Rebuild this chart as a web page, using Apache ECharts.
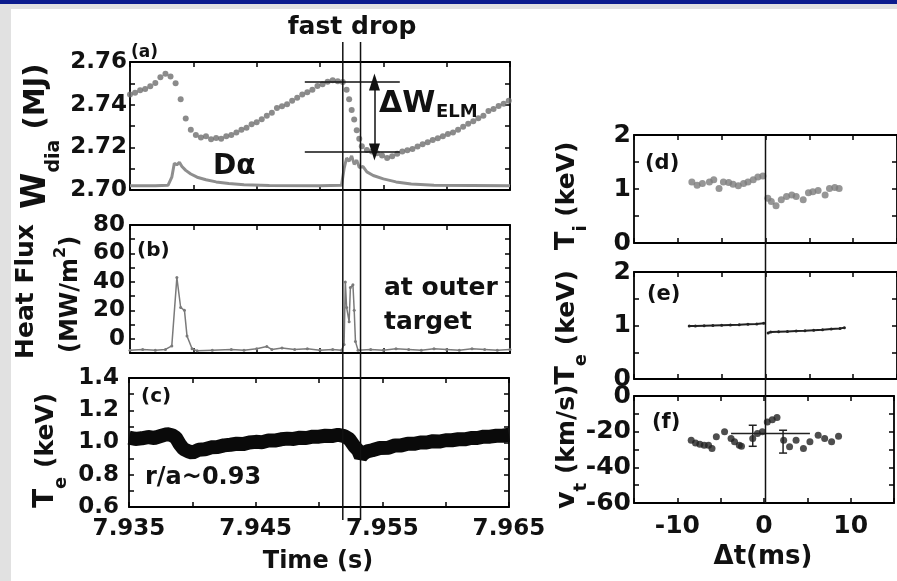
<!DOCTYPE html>
<html>
<head>
<meta charset="utf-8">
<script src="https://cdn.jsdelivr.net/npm/echarts@6/dist/echarts.min.js"></script>
<style>
  html, body { margin:0; padding:0; background:#fff; }
  #wrap { position:relative; width:897px; height:581px; overflow:hidden; background:#fff; }
  #topbar { position:absolute; left:0; top:0; width:897px; height:4px; background:#0c1c8e; }
  #topgray { position:absolute; left:0; top:4px; width:897px; height:5px; background:#e1e1e1; }
  #leftgray { position:absolute; left:0; top:4px; width:11px; height:577px; background:#e1e1e1; }
  #chart { position:absolute; left:0; top:0; width:897px; height:581px; }
</style>
</head>
<body>
<div id="wrap">
  <div id="topbar"></div><div id="topgray"></div><div id="leftgray"></div>
  <div id="chart"></div>
</div>
<script>
// (a) stored energy W_dia (MJ)
var wTime = [7.9350,7.9354,7.9358,7.9362,7.9366,7.9370,7.9374,7.9378,7.9382,7.9386,7.9390,7.9394,7.9398,7.9402,7.9406,7.9410,7.9414,7.9418,7.9422,7.9426,7.9430,7.9434,7.9438,7.9442,7.9446,7.9450,7.9454,7.9458,7.9462,7.9466,7.9470,7.9474,7.9478,7.9482,7.9486,7.9490,7.9494,7.9498,7.9502,7.9506,7.9510,7.9514,7.9518,7.9521,7.9523,7.9525,7.9527,7.9529,7.9531,7.9533,7.9537,7.9541,7.9545,7.9549,7.9553,7.9557,7.9561,7.9565,7.9569,7.9573,7.9577,7.9581,7.9585,7.9589,7.9593,7.9597,7.9601,7.9605,7.9609,7.9613,7.9617,7.9621,7.9625,7.9629,7.9633,7.9637,7.9641,7.9645,7.9649];
var wVal  = [2.7448,2.7456,2.7468,2.7474,2.7486,2.7502,2.7528,2.7545,2.7532,2.7500,2.7425,2.7335,2.7282,2.7258,2.7246,2.7252,2.7238,2.7244,2.7240,2.7252,2.7258,2.7270,2.7282,2.7292,2.7308,2.7318,2.7332,2.7348,2.7362,2.7384,2.7392,2.7402,2.7418,2.7432,2.7448,2.7458,2.7470,2.7488,2.7496,2.7508,2.7514,2.7510,2.7506,2.7470,2.7425,2.7375,2.7330,2.7280,2.7240,2.7205,2.7188,2.7180,2.7172,2.7162,2.7150,2.7158,2.7170,2.7180,2.7186,2.7192,2.7204,2.7214,2.7224,2.7234,2.7242,2.7252,2.7262,2.7270,2.7282,2.7296,2.7310,2.7322,2.7336,2.7348,2.7370,2.7380,2.7394,2.7404,2.7418];
// (a) D-alpha trace, drawn in the W_dia axis units
var daTime = [7.9350,7.9370,7.9380,7.9383,7.9385,7.9387,7.9389,7.9391,7.9394,7.9398,7.9403,7.9410,7.9418,7.9428,7.9440,7.9460,7.9500,7.9517,7.9519,7.9521,7.9523,7.9525,7.9527,7.9529,7.9531,7.9534,7.9537,7.9542,7.9550,7.9560,7.9572,7.9590,7.9650];
var daVal  = [2.7020,2.7020,2.7022,2.7060,2.7125,2.7118,2.7130,2.7110,2.7092,2.7075,2.7060,2.7048,2.7038,2.7030,2.7025,2.7021,2.7020,2.7022,2.7100,2.7150,2.7135,2.7160,2.7120,2.7140,2.7105,2.7110,2.7085,2.7068,2.7052,2.7038,2.7028,2.7022,2.7020];
// (b) heat flux at outer target (MW/m2)
var hfTime = [7.9350,7.9360,7.9370,7.9378,7.9383,7.9387,7.9390,7.9393,7.9395,7.9399,7.9403,7.9415,7.9430,7.9440,7.9450,7.9458,7.9462,7.9470,7.9480,7.9490,7.9500,7.9510,7.9517,7.9519,7.9520,7.9521,7.9523,7.9524,7.9526,7.9527,7.9528,7.9530,7.9540,7.9550,7.9560,7.9570,7.9580,7.9590,7.9600,7.9610,7.9620,7.9630,7.9640,7.9650];
var hfVal  = [-8,-7.5,-8,-7.5,-5,43,22,20,2,-7,-8.5,-8,-7.5,-8,-7,-5.5,-7.5,-6.5,-7.5,-7,-8,-7.5,-8,-4,40,22,12,36,38,20,-2,-8,-7.5,-8,-7,-7.5,-8,-7,-7.5,-8,-7,-7.5,-8,-7.5];
// (c) edge Te at r/a~0.93 (keV)
var teTime = [7.9350,7.9355,7.9360,7.9365,7.9370,7.9375,7.9380,7.9384,7.9387,7.9390,7.9393,7.9397,7.9400,7.9405,7.9410,7.9415,7.9420,7.9425,7.9430,7.9435,7.9440,7.9445,7.9450,7.9455,7.9460,7.9465,7.9470,7.9475,7.9480,7.9485,7.9490,7.9495,7.9500,7.9505,7.9510,7.9515,7.9520,7.9524,7.9528,7.9531,7.9533,7.9535,7.9538,7.9542,7.9548,7.9555,7.9560,7.9565,7.9570,7.9575,7.9580,7.9585,7.9590,7.9595,7.9600,7.9605,7.9610,7.9615,7.9620,7.9625,7.9630,7.9635,7.9640,7.9645,7.9650];
var teVal  = [1.030,1.022,1.026,1.034,1.028,1.040,1.052,1.045,1.030,0.990,0.960,0.945,0.936,0.955,0.958,0.970,0.972,0.982,0.986,0.992,0.990,1.000,1.004,1.002,1.012,1.012,1.020,1.024,1.022,1.030,1.028,1.036,1.036,1.042,1.040,1.048,1.040,1.020,0.975,0.950,0.912,0.930,0.945,0.952,0.966,0.968,0.982,0.982,0.992,0.992,1.000,1.000,1.008,1.006,1.014,1.014,1.020,1.020,1.028,1.028,1.036,1.036,1.042,1.042,1.048];
// (d) Ti vs time relative to ELM (ms, keV)
var tiTime = [-8.4,-7.8,-7.2,-6.4,-5.9,-5.3,-4.8,-4.2,-3.7,-3.1,-2.5,-2.0,-1.4,-0.87,-0.3,0.27,0.66,1.2,1.8,2.4,3.0,3.5,4.3,4.9,5.4,6.0,6.8,7.3,7.9,8.4];
var tiVal  = [1.13,1.07,1.10,1.13,1.17,1.01,1.13,1.12,1.09,1.06,1.10,1.13,1.17,1.22,1.24,0.83,0.77,0.69,0.80,0.86,0.89,0.86,0.80,0.93,0.95,0.97,0.89,1.01,1.03,1.01];
// (e) Te (keV), before and after the ELM
var teBeforeTime = [-8.7,-8.0,-7.0,-6.0,-5.0,-4.0,-3.0,-2.0,-1.0,-0.2];
var teBeforeVal  = [0.99,0.99,0.995,1.0,1.005,1.01,1.015,1.025,1.03,1.04];
var teAfterTime  = [0.3,0.6,1.5,2.5,3.5,4.5,5.5,6.5,7.5,8.5,9.0];
var teAfterVal   = [0.86,0.88,0.885,0.89,0.895,0.90,0.91,0.92,0.935,0.945,0.96];
// (f) toroidal rotation v_t (km/s)
var vtTime = [-8.4,-7.9,-7.4,-6.9,-6.4,-6.0,-5.5,-4.55,-3.8,-3.4,-2.85,-2.6,-1.3,-0.76,-0.19,0.38,0.95,1.5,2.27,2.95,3.7,4.55,5.3,6.25,7.0,7.8,8.6];
var vtVal  = [-24.8,-26.3,-27,-27.6,-27.6,-29.4,-22.9,-20.1,-23.8,-25.7,-27.6,-28.2,-23.8,-21,-20.1,-14.6,-13.3,-12.1,-24.8,-28.5,-24.8,-29.4,-25.7,-22,-23.8,-25.7,-22.5];
var vtErrTime = [-1.3, 2.2];
var vtErrLow  = [-28.2, -32];
var vtErrHigh = [-16.4, -19.2];
var vtMeanTime = [-3.8, 5.3];
var vtMeanVal  = [-21, -21];
// annotations
var fastDropTimes = [7.9518, 7.9532];
var dWTop = 2.7506, dWBottom = 2.7178;
var dWLineTimes = [7.9488, 7.9563];
var dWArrowTime = 7.9543;

var FONT = '"DejaVu Sans", sans-serif';
var INK = '#111';

function pairs(xs, ys) { return xs.map(function (x, i) { return [x, ys[i]]; }); }

var grids = [
  { left: 130, top: 62,  width: 380, height: 128 },
  { left: 130, top: 225, width: 380, height: 128 },
  { left: 129, top: 378, width: 380, height: 129 },
  { left: 634, top: 135, width: 265, height: 108 },
  { left: 634, top: 272, width: 265, height: 107 },
  { left: 634, top: 396, width: 265, height: 107 }
];

function axisBase(gi, pos, min, max, interval) {
  return {
    type: 'value', gridIndex: gi, position: pos, min: min, max: max, interval: interval,
    axisLine: { show: true, onZero: false, lineStyle: { color: '#000', width: 1.8 } },
    axisTick: { show: true, inside: true, length: 5, lineStyle: { color: '#000', width: 1.5 } },
    axisLabel: { show: false },
    splitLine: { show: false }
  };
}
function withLabels(ax, fmt, size, margin) {
  ax.axisLabel = { show: true, formatter: fmt, color: INK, fontFamily: FONT, fontWeight: 'bold',
    fontSize: size, margin: margin, showMinLabel: true, showMaxLabel: true };
  return ax;
}

var timeFmt = function (v) { return Math.round((v - 7.935) / 0.005) % 2 === 0 ? v.toFixed(3) : ''; };
var dtFmt = function (v) { return Math.round(v) % 10 === 0 ? String(Math.round(v)) : ''; };

var xAxes = [], yAxes = [];
// left panels
for (var g = 0; g < 3; g++) {
  var xb = axisBase(g, 'bottom', 7.935, 7.965, 0.005);
  if (g === 2) withLabels(xb, timeFmt, 23, 11);
  xAxes.push(xb, axisBase(g, 'top', 7.935, 7.965, 0.005));
}
// right panels
for (var g2 = 3; g2 < 6; g2++) {
  var xr = axisBase(g2, 'bottom', -15, 15, 5);
  if (g2 === 5) withLabels(xr, dtFmt, 25, 11);
  xAxes.push(xr, axisBase(g2, 'top', -15, 15, 5));
}
yAxes.push(withLabels(axisBase(0, 'left', 2.70, 2.76, 0.01),
  function (v) { return Math.round(v * 100) % 2 === 0 ? v.toFixed(2) : ''; }, 23, 3), axisBase(0, 'right', 2.70, 2.76, 0.01));
yAxes.push(withLabels(axisBase(1, 'left', -10, 80, 10),
  function (v) { return (v >= 0 && Math.round(v) % 20 === 0) ? String(Math.round(v)) : ''; }, 23, 5), axisBase(1, 'right', -10, 80, 10));
yAxes.push(withLabels(axisBase(2, 'left', 0.6, 1.4, 0.1),
  function (v) { return Math.round(v * 10) % 2 === 0 ? v.toFixed(1) : ''; }, 23, 10), axisBase(2, 'right', 0.6, 1.4, 0.1));
var keVFmt = function (v) { return Math.abs(v - Math.round(v)) < 1e-6 ? String(Math.round(v)) : ''; };
yAxes.push(withLabels(axisBase(3, 'left', 0, 2, 0.5), keVFmt, 25, 3), axisBase(3, 'right', 0, 2, 0.5));
yAxes.push(withLabels(axisBase(4, 'left', 0, 2, 0.5), keVFmt, 25, 3), axisBase(4, 'right', 0, 2, 0.5));
yAxes.push(withLabels(axisBase(5, 'left', -60, 0, 10),
  function (v) { return Math.round(v) % 20 === 0 ? String(Math.round(v)) : ''; }, 25, 3), axisBase(5, 'right', -60, 0, 10));

var chart = echarts.init(document.getElementById('chart'), null, { renderer: 'canvas' });

chart.setOption({
  animation: false,
  grid: grids.map(function (g) { return Object.assign({ containLabel: false }, g); }),
  xAxis: xAxes,
  yAxis: yAxes,
  series: [
    { type: 'scatter', xAxisIndex: 0, yAxisIndex: 0, data: pairs(wTime, wVal), symbolSize: 6,
      itemStyle: { color: '#6e6e6e' }, z: 3,
      markLine: {
        silent: true, symbol: 'none', label: { show: false },
        lineStyle: { color: INK, width: 1.5, type: 'solid' },
        data: [
          [{ coord: [dWLineTimes[0], dWTop] }, { coord: [dWLineTimes[1], dWTop] }],
          [{ coord: [dWLineTimes[0], dWBottom] }, { coord: [dWLineTimes[1], dWBottom] }],
          [{ coord: [dWArrowTime, dWTop], symbol: 'triangle', symbolSize: [11, 17] },
           { coord: [dWArrowTime, dWBottom], symbol: 'triangle', symbolSize: [11, 17] }]
        ]
      }
    },
    { type: 'line', xAxisIndex: 0, yAxisIndex: 0, data: pairs(daTime, daVal), showSymbol: false,
      lineStyle: { color: '#8e8e8e', width: 3 }, z: 2 },
    { type: 'line', xAxisIndex: 2, yAxisIndex: 2, data: pairs(hfTime, hfVal), symbol: 'circle', symbolSize: 3,
      itemStyle: { color: '#7a7a7a' }, lineStyle: { color: '#7a7a7a', width: 1.5 } },
    { type: 'line', xAxisIndex: 4, yAxisIndex: 4, data: pairs(teTime, teVal), showSymbol: false,
      lineStyle: { color: '#0a0a0a', width: 14, join: 'bevel', cap: 'butt' } },
    { type: 'scatter', xAxisIndex: 6, yAxisIndex: 6, data: pairs(tiTime, tiVal), symbolSize: 7,
      itemStyle: { color: '#7c7c7c' } },
    { type: 'line', xAxisIndex: 8, yAxisIndex: 8, data: pairs(teBeforeTime, teBeforeVal), symbol: 'circle', symbolSize: 3,
      itemStyle: { color: '#222' }, lineStyle: { color: '#222', width: 2 } },
    { type: 'line', xAxisIndex: 8, yAxisIndex: 8, data: pairs(teAfterTime, teAfterVal), symbol: 'circle', symbolSize: 3,
      itemStyle: { color: '#222' }, lineStyle: { color: '#222', width: 2 } },
    { type: 'scatter', xAxisIndex: 10, yAxisIndex: 10, data: pairs(vtTime, vtVal), symbolSize: 7,
      itemStyle: { color: '#222' } },
    { type: 'line', xAxisIndex: 10, yAxisIndex: 10, data: pairs(vtMeanTime, vtMeanVal), showSymbol: false,
      lineStyle: { color: '#222', width: 1.5 } },
    { type: 'custom', xAxisIndex: 10, yAxisIndex: 10,
      data: vtErrTime.map(function (t, i) { return [t, vtErrLow[i], vtErrHigh[i]]; }),
      encode: { x: 0, y: [1, 2] },
      renderItem: function (params, api) {
        var lo = api.coord([api.value(0), api.value(1)]);
        var hi = api.coord([api.value(0), api.value(2)]);
        var st = { stroke: '#222', lineWidth: 1.5 };
        return { type: 'group', children: [
          { type: 'line', shape: { x1: lo[0], y1: lo[1], x2: hi[0], y2: hi[1] }, style: st },
          { type: 'line', shape: { x1: lo[0] - 4, y1: lo[1], x2: lo[0] + 4, y2: lo[1] }, style: st },
          { type: 'line', shape: { x1: hi[0] - 4, y1: hi[1], x2: hi[0] + 4, y2: hi[1] }, style: st }
        ] };
      }
    }
  ]
});

// text helpers
var mctx = document.createElement('canvas').getContext('2d');
function measure(t, size) { mctx.font = 'bold ' + size + 'px ' + FONT; return mctx.measureText(t).width; }
function txt(t, x, y, size, align) {
  return { type: 'text', x: x, y: y, z: 100, silent: true,
    style: { text: t, font: 'bold ' + size + 'px ' + FONT, fill: INK,
      align: align || 'left', verticalAlign: 'middle', textAlign: align || 'left', textVerticalAlign: 'middle' } };
}
// vertical (bottom-to-top) label built from pieces [text, size, dx]
function vLabel(x, yBottom, parts) {
  var out = [], y = yBottom;
  parts.forEach(function (p) {
    var w = measure(p[0], p[1]);
    out.push({ type: 'text', x: x + (p[2] || 0), y: y - w / 2, rotation: Math.PI / 2, z: 100, silent: true,
      style: { text: p[0], font: 'bold ' + p[1] + 'px ' + FONT, fill: INK,
        align: 'center', verticalAlign: 'middle', textAlign: 'center', textVerticalAlign: 'middle' } });
    y -= w;
  });
  return out;
}

var els = [];
// fast drop lines through the three left panels
fastDropTimes.forEach(function (t) {
  var px = chart.convertToPixel({ xAxisIndex: 0 }, t);
  els.push({ type: 'line', z: 90, silent: true, shape: { x1: px, y1: 42, x2: px, y2: 520 }, style: { stroke: INK, lineWidth: 1.5 } });
});
// t = 0 line through the three right panels
var p0 = chart.convertToPixel({ xAxisIndex: 6 }, 0);
els.push({ type: 'line', z: 90, silent: true, shape: { x1: p0, y1: grids[3].top, x2: p0, y2: grids[5].top + grids[5].height }, style: { stroke: INK, lineWidth: 1.5 } });

els.push(txt('fast drop', 352, 27, 25, 'center'));
els.push(txt('(a)', 131, 53, 17));
els.push(txt('D\u03b1', 213, 167, 28));
els.push(txt('\u0394W', 379, 104, 30));
els.push(txt('ELM', 436, 112, 18));
els.push(txt('(b)', 137, 251, 20));
els.push(txt('at outer', 384, 288, 25));
els.push(txt('target', 384, 322, 25));
els.push(txt('(c)', 141, 397, 20));
els.push(txt('r/a~0.93', 145, 478, 24));
els.push(txt('Time (s)', 318, 562, 24, 'center'));
els.push(txt('(d)', 645, 164, 21));
els.push(txt('(e)', 647, 295, 21));
els.push(txt('(f)', 652, 423, 21));
els.push(txt('\u0394t(ms)', 763, 557, 26, 'center'));

els = els.concat(vLabel(36, 209, [['W', 33, 0], ['dia', 19, 18], [' (MJ)', 29, 0]]));
els = els.concat(vLabel(26, 359, [['Heat Flux', 25, 0]]));
els = els.concat(vLabel(71, 353, [['(MW/m', 24, 0], ['2', 16, -10], [')', 24, 0]]));
els = els.concat(vLabel(46, 508, [['T', 28, 0], ['e', 18, 15], [' (keV)', 25, 0]]));
els = els.concat(vLabel(567, 250, [['T', 27, 0], ['i', 18, 14], [' (keV)', 25, 0]]));
els = els.concat(vLabel(567, 509, [['v', 27, 0], ['t', 18, 14], [' (km/s)', 25, 0], ['T', 27, 0], ['e', 18, 14], [' (keV)', 25, 0]]));

chart.setOption({ graphic: els });
</script>
</body>
</html>
